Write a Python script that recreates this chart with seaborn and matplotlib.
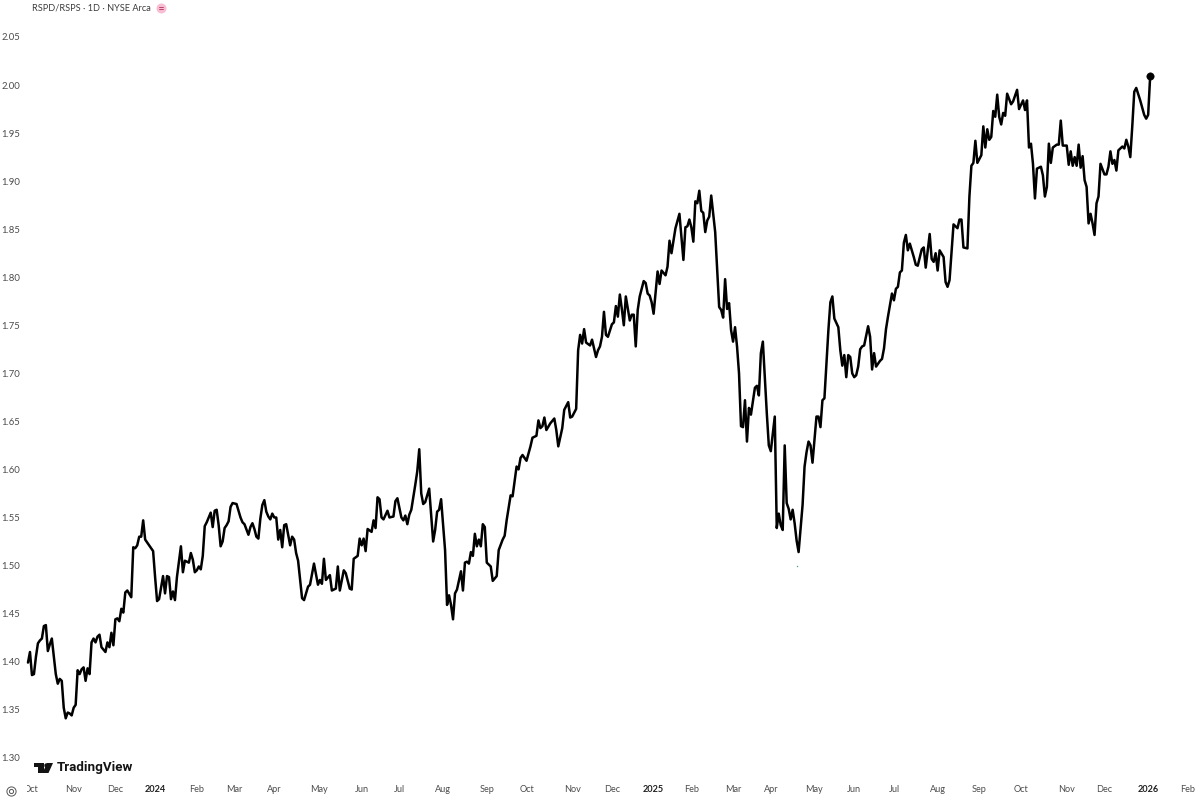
import matplotlib
matplotlib.use('Agg')
import matplotlib.pyplot as plt
import pandas as pd
import seaborn as sns
from matplotlib.lines import Line2D
from matplotlib.patches import Polygon
from matplotlib.transforms import Bbox

# === Data: trading session number and RSPD/RSPS close ===
sessions = [
    0, 1, 2, 3, 4, 5, 6, 7, 8, 9, 10, 11, 12, 13, 14, 15, 16, 17, 18, 19,
    20, 21, 22, 23, 24, 25, 26, 27, 28, 29, 30, 31, 32, 33, 34, 35, 36, 37, 39, 40,
    41, 42, 43, 44, 45, 46, 47, 48, 49, 50, 52, 53, 54, 55, 56, 57, 58, 59, 60, 61,
    63, 64, 65, 66, 67, 68, 69, 70, 71, 72, 73, 74, 75, 77, 78, 79, 80, 81, 82, 83,
    84, 85, 86, 87, 88, 89, 90, 92, 93, 94, 95, 96, 97, 98, 99, 100, 101, 102, 103, 105,
    107, 108, 109, 111, 112, 113, 114, 115, 116, 117, 118, 119, 120, 121, 122, 123, 124, 125, 126, 127,
    128, 129, 130, 132, 133, 134, 135, 136, 137, 138, 139, 141, 142, 144, 146, 147, 148, 149, 150, 152,
    153, 155, 156, 157, 159, 160, 162, 163, 164, 166, 167, 168, 169, 170, 171, 173, 174, 175, 176, 177,
    178, 179, 181, 182, 184, 185, 186, 188, 189, 190, 191, 192, 193, 195, 196, 197, 198, 199, 200, 202,
    204, 205, 206, 207, 208, 210, 211, 212, 213, 214, 215, 216, 218, 219, 220, 221, 222, 223, 224, 225,
    226, 227, 228, 229, 230, 231, 233, 234, 236, 237, 239, 240, 241, 243, 244, 246, 247, 248, 249, 251,
    253, 254, 256, 257, 258, 259, 260, 261, 263, 265, 266, 267, 269, 270, 272, 273, 274, 276, 277, 278,
    279, 280, 281, 283, 284, 286, 287, 288, 289, 290, 291, 292, 294, 295, 296, 297, 298, 299, 300, 301,
    303, 304, 305, 306, 307, 308, 310, 311, 312, 313, 314, 315, 317, 318, 319, 321, 322, 323, 324, 326,
    328, 329, 330, 331, 332, 333, 334, 335, 336, 337, 338, 339, 340, 341, 342, 343, 344, 345, 346, 348,
    349, 350, 351, 352, 353, 354, 355, 356, 357, 358, 359, 360, 361, 362, 363, 364, 366, 367, 368, 369,
    370, 371, 372, 373, 374, 376, 377, 378, 379, 380, 381, 382, 383, 384, 385, 386, 387, 388, 390, 391,
    392, 393, 394, 395, 397, 398, 399, 400, 401, 403, 404, 405, 406, 408, 409, 410, 411, 412, 413, 414,
    415, 416, 417, 418, 419, 420, 421, 423, 424, 425, 426, 427, 429, 430, 431, 432, 433, 435, 436, 437,
    438, 439, 440, 441, 442, 443, 444, 446, 447, 448, 450, 451, 452, 454, 455, 456, 457, 458, 459, 461,
    462, 463, 464, 466, 468, 469, 470, 471, 473, 474, 475, 476, 477, 478, 480, 481, 482, 483, 484, 485,
    486, 487, 488, 489, 490, 491, 492, 493, 495, 496, 498, 499, 501, 502, 503, 504, 505, 506, 507, 508,
    510, 511, 512, 513, 514, 515, 516, 518, 519, 520, 521, 523, 524, 525, 526, 527, 528, 529, 530, 531,
    532, 533, 534, 535, 536, 537, 538, 539, 540, 542, 543, 544, 545, 546, 547, 548, 549, 551, 552, 553,
    554, 555, 556, 557, 558, 560, 562, 563, 564, 565,
]
ratio = [
    1.399, 1.410, 1.386, 1.387, 1.405, 1.419, 1.422, 1.424, 1.437, 1.438, 1.411, 1.418, 1.424, 1.405, 1.387, 1.377, 1.382, 1.380, 1.352, 1.341,
    1.347, 1.346, 1.344, 1.352, 1.355, 1.391, 1.387, 1.392, 1.394, 1.380, 1.393, 1.387, 1.420, 1.424, 1.420, 1.426, 1.428, 1.415, 1.410, 1.420,
    1.415, 1.430, 1.417, 1.444, 1.445, 1.442, 1.455, 1.451, 1.472, 1.474, 1.467, 1.519, 1.518, 1.521, 1.530, 1.530, 1.547, 1.527, 1.524, 1.521,
    1.515, 1.488, 1.463, 1.465, 1.477, 1.489, 1.471, 1.489, 1.488, 1.465, 1.473, 1.464, 1.488, 1.520, 1.493, 1.505, 1.504, 1.503, 1.513, 1.506,
    1.493, 1.495, 1.499, 1.496, 1.510, 1.541, 1.545, 1.555, 1.540, 1.557, 1.558, 1.542, 1.520, 1.525, 1.539, 1.542, 1.546, 1.561, 1.565, 1.564,
    1.550, 1.545, 1.543, 1.532, 1.540, 1.544, 1.538, 1.530, 1.528, 1.549, 1.563, 1.568, 1.556, 1.551, 1.548, 1.554, 1.550, 1.550, 1.527, 1.537,
    1.519, 1.542, 1.543, 1.521, 1.530, 1.527, 1.513, 1.505, 1.485, 1.466, 1.464, 1.478, 1.480, 1.502, 1.480, 1.485, 1.481, 1.507, 1.485, 1.490,
    1.474, 1.476, 1.499, 1.474, 1.495, 1.492, 1.476, 1.475, 1.507, 1.510, 1.528, 1.521, 1.528, 1.515, 1.538, 1.535, 1.547, 1.539, 1.571, 1.569,
    1.550, 1.548, 1.557, 1.550, 1.551, 1.567, 1.570, 1.550, 1.547, 1.552, 1.543, 1.553, 1.558, 1.584, 1.598, 1.621, 1.575, 1.564, 1.566, 1.580,
    1.525, 1.537, 1.556, 1.558, 1.569, 1.516, 1.459, 1.469, 1.459, 1.444, 1.471, 1.475, 1.494, 1.474, 1.503, 1.504, 1.502, 1.514, 1.510, 1.533,
    1.520, 1.527, 1.520, 1.543, 1.540, 1.503, 1.499, 1.484, 1.489, 1.516, 1.527, 1.531, 1.547, 1.573, 1.572, 1.603, 1.600, 1.612, 1.615, 1.609,
    1.624, 1.633, 1.635, 1.651, 1.643, 1.645, 1.654, 1.641, 1.648, 1.653, 1.641, 1.624, 1.643, 1.662, 1.670, 1.654, 1.655, 1.663, 1.724, 1.740,
    1.731, 1.746, 1.732, 1.729, 1.735, 1.717, 1.724, 1.728, 1.738, 1.764, 1.740, 1.738, 1.751, 1.753, 1.770, 1.759, 1.782, 1.767, 1.750, 1.780,
    1.755, 1.761, 1.761, 1.728, 1.766, 1.780, 1.796, 1.794, 1.783, 1.781, 1.774, 1.762, 1.806, 1.793, 1.807, 1.802, 1.811, 1.838, 1.825, 1.851,
    1.866, 1.842, 1.818, 1.852, 1.853, 1.860, 1.852, 1.837, 1.879, 1.877, 1.890, 1.869, 1.867, 1.847, 1.859, 1.863, 1.885, 1.866, 1.847, 1.769,
    1.766, 1.758, 1.798, 1.767, 1.773, 1.745, 1.733, 1.748, 1.728, 1.700, 1.645, 1.644, 1.672, 1.629, 1.664, 1.657, 1.685, 1.687, 1.677, 1.721,
    1.733, 1.696, 1.658, 1.625, 1.619, 1.655, 1.539, 1.554, 1.542, 1.537, 1.625, 1.565, 1.559, 1.548, 1.558, 1.544, 1.526, 1.514, 1.563, 1.603,
    1.618, 1.629, 1.625, 1.607, 1.655, 1.655, 1.644, 1.672, 1.674, 1.745, 1.774, 1.780, 1.757, 1.748, 1.724, 1.708, 1.719, 1.696, 1.719, 1.717,
    1.700, 1.696, 1.698, 1.707, 1.725, 1.728, 1.729, 1.749, 1.738, 1.704, 1.721, 1.707, 1.713, 1.715, 1.726, 1.746, 1.759, 1.783, 1.776, 1.788,
    1.790, 1.805, 1.807, 1.836, 1.844, 1.828, 1.835, 1.821, 1.813, 1.812, 1.829, 1.831, 1.810, 1.845, 1.819, 1.816, 1.825, 1.807, 1.828, 1.821,
    1.795, 1.790, 1.797, 1.855, 1.851, 1.860, 1.860, 1.831, 1.830, 1.884, 1.916, 1.919, 1.942, 1.919, 1.927, 1.957, 1.935, 1.954, 1.943, 1.946,
    1.973, 1.967, 1.990, 1.967, 1.959, 1.971, 1.968, 1.991, 1.980, 1.983, 1.995, 1.975, 1.984, 1.974, 1.984, 1.935, 1.939, 1.918, 1.882, 1.913,
    1.915, 1.906, 1.884, 1.894, 1.939, 1.919, 1.935, 1.938, 1.938, 1.963, 1.937, 1.937, 1.917, 1.931, 1.916, 1.925, 1.916, 1.938, 1.914, 1.926,
    1.901, 1.894, 1.856, 1.866, 1.856, 1.844, 1.877, 1.884, 1.918, 1.907, 1.907, 1.915, 1.931, 1.918, 1.922, 1.911, 1.932, 1.936, 1.934, 1.943,
    1.936, 1.925, 1.957, 1.993, 1.997, 1.984, 1.969, 1.965, 1.969, 2.009,
]

# === Axis labels ===
month_labels = ['Oct', 'Nov', 'Dec', '2024', 'Feb', 'Mar', 'Apr', 'May', 'Jun', 'Jul',
                'Aug', 'Sep', 'Oct', 'Nov', 'Dec', '2025', 'Feb', 'Mar', 'Apr', 'May',
                'Jun', 'Jul', 'Aug', 'Sep', 'Oct', 'Nov', 'Dec', '2026', 'Feb']
month_sessions = [1.5, 22.7, 43.8, 64, 85, 104, 124, 146.5, 168, 187,
                  209, 231, 251, 274, 294, 315, 334, 355, 374, 396,
                  416, 436, 458, 479, 500, 523, 542, 564, 584]
price_ticks = [1.30, 1.35, 1.40, 1.45, 1.50, 1.55, 1.60, 1.65, 1.70, 1.75, 1.80,
               1.85, 1.90, 1.95, 2.00, 2.05]

title_text = 'RSPD/RSPS · 1D · NYSE Arca'
GRAY = '#4c4c4c'

sns.set_theme(style='white')
plt.rcParams['font.family'] = ['Lato', 'DejaVu Sans']

df = pd.DataFrame({'session': sessions, 'ratio': ratio})

# === Figure ===
fig = plt.figure(figsize=(12, 7.99), dpi=100)
ax = fig.add_axes([26 / 1200, 1 - 775 / 799, 1174 / 1200, 775 / 799])

sns.lineplot(data=df, x='session', y='ratio', color='black', linewidth=1.8,
             estimator=None, ax=ax)
sns.scatterplot(data=df.tail(1), x='session', y='ratio', color='black', s=28,
                edgecolor='black', ax=ax, zorder=5)
# little stray teal dot under the April low
ax.plot([387], [1.4995], marker='o', ms=1, color='#3aa08c', mew=0)

ax.set_xlim(-1, 590.1)
ax.set_ylim(1.282, 2.0885)
ax.set_xlabel('')
ax.set_ylabel('')
sns.despine(ax=ax, left=True, bottom=True)

ax.set_yticks(price_ticks)
ax.set_yticklabels([f'{p:.2f}' for p in price_ticks])
ax.set_xticks(month_sessions)
ax.set_xticklabels(month_labels)
ax.tick_params(axis='y', length=0, pad=4, labelsize=6.8, labelcolor=GRAY)
ax.tick_params(axis='x', length=0, pad=7.5, labelsize=6.6, labelcolor=GRAY)

# years are bold, first "Oct" is cut by the price scale
left_clip = Bbox([[27, 0], [1200, 40]])
for lab in ax.get_xticklabels():
    lab.set_clip_box(left_clip)
    lab.set_clip_on(True)
    if lab.get_text().isdigit():
        lab.set_fontweight('bold')
        lab.set_color('#222222')


def fx(px):
    return px / 1200


def fy(py):
    return 1 - py / 799


# === Header ===
fig.text(fx(32), fy(8), title_text, fontsize=6.6, color='#3c3c3c', va='center', ha='left')
fig.add_artist(Line2D([fx(161)], [fy(8)], marker='o', ms=7.2, mfc='#f8bdd2', mec='none',
                      transform=fig.transFigure))
fig.add_artist(Line2D([fx(159), fx(163)], [fy(7), fy(7)], lw=0.6, color='#b0305f',
                      transform=fig.transFigure))
fig.add_artist(Line2D([fx(159), fx(163)], [fy(9), fy(9)], lw=0.6, color='#b0305f',
                      transform=fig.transFigure))

# === TradingView logo ===
logo_bar = [(33.5, 763), (43.5, 763), (43.5, 773), (38, 773), (38, 766.5), (33.5, 766.5)]
logo_slant = [(47, 763), (53, 763), (48.5, 773), (42.5, 773)]
for shape in (logo_bar, logo_slant):
    fig.add_artist(Polygon([(fx(a), fy(b)) for a, b in shape], closed=True, fc='#131313',
                           ec='none', transform=fig.transFigure))
fig.add_artist(Line2D([fx(45.7)], [fy(765)], marker='o', ms=3.2, mfc='#131313', mec='none',
                      transform=fig.transFigure))
fig.text(fx(57), fy(768), 'TradingView', fontsize=9.6, fontweight='bold', family='Roboto',
         color='#131313', va='center', ha='left')

# === Settings icon bottom left ===
fig.add_artist(Line2D([fx(10.7)], [fy(790.5)], marker='o', ms=6.6, mfc='none', mec='#555555',
                      mew=0.7, transform=fig.transFigure))
fig.add_artist(Line2D([fx(10.7)], [fy(790.5)], marker='o', ms=3, mfc='none', mec='#555555',
                      mew=0.7, transform=fig.transFigure))

fig.savefig('out.png', dpi=100, facecolor='white')
